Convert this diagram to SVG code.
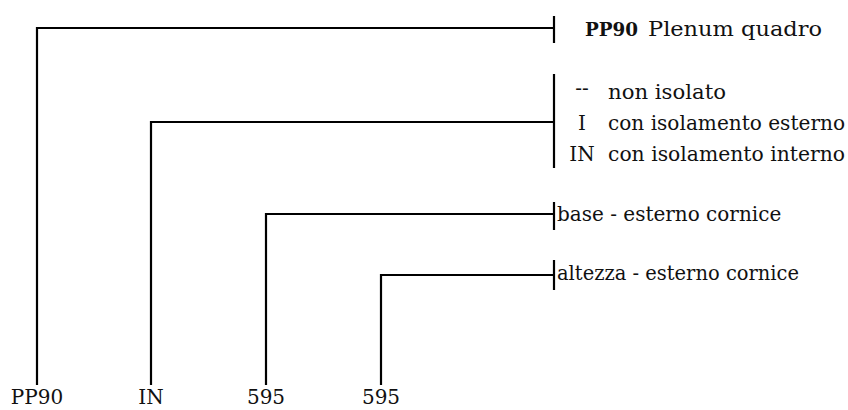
<svg xmlns="http://www.w3.org/2000/svg" width="848" height="410" viewBox="0 0 848 410">
<style>
.ln{fill:none;stroke:#000;stroke-width:2.2;stroke-linecap:butt}
.t{font-family:"DejaVu Serif","Liberation Serif",serif;font-size:20px;fill:#111}
.b{font-weight:bold;font-size:18px}
</style>
<rect width="848" height="410" fill="#fff"/>
<g id="connectors">
<path class="ln" d="M37,385 V28 H554"/>
<path class="ln" d="M554,16 V43"/>
<path class="ln" d="M151,385 V122 H554"/>
<path class="ln" d="M554,74 V168"/>
<path class="ln" d="M266,385 V214 H554"/>
<path class="ln" d="M554,202 V230"/>
<path class="ln" d="M381,385 V275 H554"/>
<path class="ln" d="M554,260 V290"/>
</g>
<g id="legend-pp90">
<text class="t b" x="585" y="36" textLength="53" lengthAdjust="spacingAndGlyphs">PP90</text>
<text class="t" x="648" y="36" textLength="174" lengthAdjust="spacingAndGlyphs">Plenum quadro</text>
</g>
<g id="legend-isolamento">
<text class="t" x="582" y="95" text-anchor="middle" font-size="11" fill="#555">--</text>
<text class="t" x="608" y="99" textLength="118" lengthAdjust="spacingAndGlyphs">non isolato</text>
<text class="t" x="582" y="130" text-anchor="middle">I</text>
<text class="t" x="608" y="130" textLength="237" lengthAdjust="spacingAndGlyphs">con isolamento esterno</text>
<text class="t" x="582" y="161" text-anchor="middle">IN</text>
<text class="t" x="608" y="161" textLength="237" lengthAdjust="spacingAndGlyphs">con isolamento interno</text>
</g>
<g id="legend-base">
<text class="t" x="557" y="221" font-size="19">base - esterno cornice</text>
</g>
<g id="legend-altezza">
<text class="t" x="557" y="280" textLength="242" lengthAdjust="spacingAndGlyphs">altezza - esterno cornice</text>
</g>
<g id="labels">
<text class="t" x="37" y="404" text-anchor="middle">PP90</text>
<text class="t" x="151" y="404" text-anchor="middle">IN</text>
<text class="t" x="266" y="404" text-anchor="middle">595</text>
<text class="t" x="381" y="404" text-anchor="middle">595</text>
</g>
</svg>
